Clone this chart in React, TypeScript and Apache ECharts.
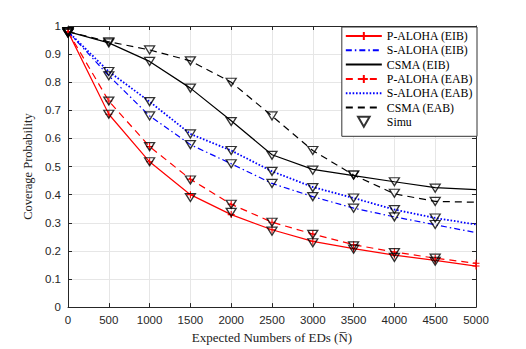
import React, { useEffect, useRef } from 'react';
import * as echarts from 'echarts';

// Expected numbers of EDs (analytic curves)
const nValues = [0, 500, 1000, 1500, 2000, 2500, 3000, 3500, 4000, 4500, 5000];
// Simulation points
const simuN = [0, 500, 1000, 1500, 2000, 2500, 3000, 3500, 4000, 4500];

const pAlohaEIB = [0.98, 0.686, 0.517, 0.40, 0.329, 0.275, 0.234, 0.208, 0.185, 0.166, 0.146];
const sAlohaEIB = [0.98, 0.823, 0.68, 0.578, 0.51, 0.44, 0.393, 0.352, 0.321, 0.293, 0.265];
const csmaEIB = [0.98, 0.94, 0.874, 0.779, 0.663, 0.542, 0.49, 0.468, 0.446, 0.425, 0.418];
const pAlohaEAB = [0.98, 0.733, 0.571, 0.455, 0.366, 0.302, 0.26, 0.222, 0.196, 0.174, 0.156];
const sAlohaEAB = [0.98, 0.838, 0.731, 0.616, 0.557, 0.483, 0.427, 0.388, 0.347, 0.317, 0.294];
const csmaEAB = [0.98, 0.944, 0.915, 0.876, 0.80, 0.68, 0.557, 0.47, 0.403, 0.376, 0.373];

const simuPAlohaEIB = [0.975, 0.686, 0.517, 0.39, 0.337, 0.27, 0.229, 0.206, 0.177, 0.163];
const simuPAlohaEAB = [0.98, 0.733, 0.571, 0.452, 0.366, 0.302, 0.259, 0.218, 0.194, 0.174];
const simuSAlohaEIB = [0.975, 0.823, 0.68, 0.578, 0.51, 0.44, 0.393, 0.352, 0.321, 0.294];
const simuSAlohaEAB = [0.98, 0.838, 0.731, 0.616, 0.557, 0.483, 0.425, 0.388, 0.347, 0.317];
const simuCsmaEIB = [0.975, 0.94, 0.874, 0.779, 0.66, 0.54, 0.487, 0.47, 0.446, 0.423];
const simuCsmaEAB = [0.98, 0.944, 0.915, 0.876, 0.80, 0.68, 0.557, 0.47, 0.405, 0.376];

const seriesNames = [
  'P-ALOHA (EIB)',
  'S-ALOHA (EIB)',
  'CSMA (EIB)',
  'P-ALOHA (EAB)',
  'S-ALOHA (EAB)',
  'CSMA (EAB)',
  'Simu',
];
const withPlus = [true, false, false, true, false, false, true];

const PLUS = 'path://M0,5L10,5M5,0L5,10';
const TRI = 'path://M0,0L10,0L5,8.66Z';

const toPairs = (xs: number[], ys: number[]) => xs.map((x, i) => [x, ys[i]]);

export default function App() {
  const ref = useRef<HTMLDivElement>(null);

  useEffect(() => {
    if (!ref.current) return;
    const chart = echarts.init(ref.current, undefined, { renderer: 'svg' });
    const axisColor = '#262626';
    const sans = 'Liberation Sans, Arial, sans-serif';
    const serif = 'Liberation Serif, Times New Roman, serif';

    const lineSeries = (
      name: string,
      ys: number[],
      color: string,
      type: any,
      width: number,
      plus: boolean
    ) => ({
      name,
      type: 'line',
      data: toPairs(nValues, ys),
      xAxisIndex: 0,
      yAxisIndex: 0,
      symbol: plus ? PLUS : 'none',
      symbolSize: 7,
      showSymbol: plus,
      itemStyle: { color, borderColor: color, borderWidth: 1.1 },
      lineStyle: { color, type, width },
      z: 2,
    });

    const simuData = [
      ...toPairs(simuN, simuPAlohaEIB),
      ...toPairs(simuN, simuPAlohaEAB),
      ...toPairs(simuN, simuSAlohaEIB),
      ...toPairs(simuN, simuSAlohaEAB),
      ...toPairs(simuN, simuCsmaEIB),
      ...toPairs(simuN, simuCsmaEAB),
    ];

    chart.setOption({
      animation: false,
      backgroundColor: '#ffffff',
      grid: { left: 68, right: 50, top: 26, bottom: 39, containLabel: false },
      legend: {
        data: seriesNames.map((name, i) =>
          withPlus[i] ? { name } : { name, itemStyle: { opacity: 0 } }
        ),
        orient: 'vertical',
        right: 49,
        top: 27,
        backgroundColor: '#ffffff',
        borderColor: '#333333',
        borderWidth: 1,
        borderRadius: 0,
        padding: [3, 4, 8.5, 3],
        itemWidth: 36,
        itemHeight: 10,
        itemGap: 2.3,
        textStyle: { fontFamily: serif, fontSize: 11.8, color: '#000' },
      },
      xAxis: [
        {
          type: 'value',
          min: 0,
          max: 5000,
          interval: 500,
          name: 'Expected Numbers of EDs (N\u0305)',
          nameLocation: 'middle',
          nameGap: 19,
          nameTextStyle: { fontFamily: serif, fontSize: 13, color: '#222' },
          axisLine: { show: true, lineStyle: { color: axisColor, width: 1 } },
          axisTick: { show: true, inside: true, length: 4, lineStyle: { color: axisColor } },
          axisLabel: {
            fontFamily: sans,
            fontSize: 11.5,
            color: axisColor,
            margin: 7,
            formatter: (v: number) => String(v),
          },
          splitLine: { show: true, lineStyle: { color: '#e6e6e6', width: 1 } },
        },
        {
          type: 'value',
          position: 'top',
          min: 0,
          max: 5000,
          interval: 500,
          axisLine: { show: true, onZero: false, lineStyle: { color: axisColor, width: 1 } },
          axisTick: { show: true, inside: true, length: 4, lineStyle: { color: axisColor } },
          axisLabel: { show: false },
          splitLine: { show: false },
        },
      ],
      yAxis: [
        {
          type: 'value',
          min: 0,
          max: 1,
          interval: 0.1,
          name: 'Coverage Probability',
          nameLocation: 'middle',
          nameGap: 29,
          nameTextStyle: { fontFamily: serif, fontSize: 12.5, color: '#222' },
          axisLine: { show: true, lineStyle: { color: axisColor, width: 1 } },
          axisTick: { show: true, inside: true, length: 4, lineStyle: { color: axisColor } },
          axisLabel: {
            fontFamily: sans,
            fontSize: 11.5,
            color: axisColor,
            margin: 7,
            formatter: (v: number) => String(Math.round(v * 10) / 10),
          },
          splitLine: { show: true, lineStyle: { color: '#e6e6e6', width: 1 } },
        },
        {
          type: 'value',
          position: 'right',
          min: 0,
          max: 1,
          interval: 0.1,
          axisLine: { show: true, onZero: false, lineStyle: { color: axisColor, width: 1 } },
          axisTick: { show: true, inside: true, length: 4, lineStyle: { color: axisColor } },
          axisLabel: { show: false },
          splitLine: { show: false },
        },
      ],
      series: [
        lineSeries(seriesNames[0], pAlohaEIB, '#ff0000', 'solid', 1.2, true),
        lineSeries(seriesNames[1], sAlohaEIB, '#0000ff', [6, 3, 1.5, 3], 1.2, false),
        lineSeries(seriesNames[2], csmaEIB, '#000000', 'solid', 1.2, false),
        lineSeries(seriesNames[3], pAlohaEAB, '#ff0000', [7, 5], 1.2, true),
        lineSeries(seriesNames[4], sAlohaEAB, '#0000ff', [1.6, 1.8], 1.8, false),
        lineSeries(seriesNames[5], csmaEAB, '#000000', [7, 5], 1.2, false),
        {
          name: seriesNames[6],
          type: 'scatter',
          data: simuData,
          xAxisIndex: 0,
          yAxisIndex: 0,
          symbol: TRI,
          symbolSize: [10, 8],
          itemStyle: { color: 'rgba(255,255,255,0)', borderColor: '#000000', borderWidth: 1.3 },
          z: 3,
        },
      ],
    });

    return () => {
      chart.dispose();
    };
  }, []);

  return (
    <div
      ref={ref}
      style={{ position: 'fixed', left: 0, top: 0, width: 526, height: 349, background: '#fff' }}
    />
  );
}
